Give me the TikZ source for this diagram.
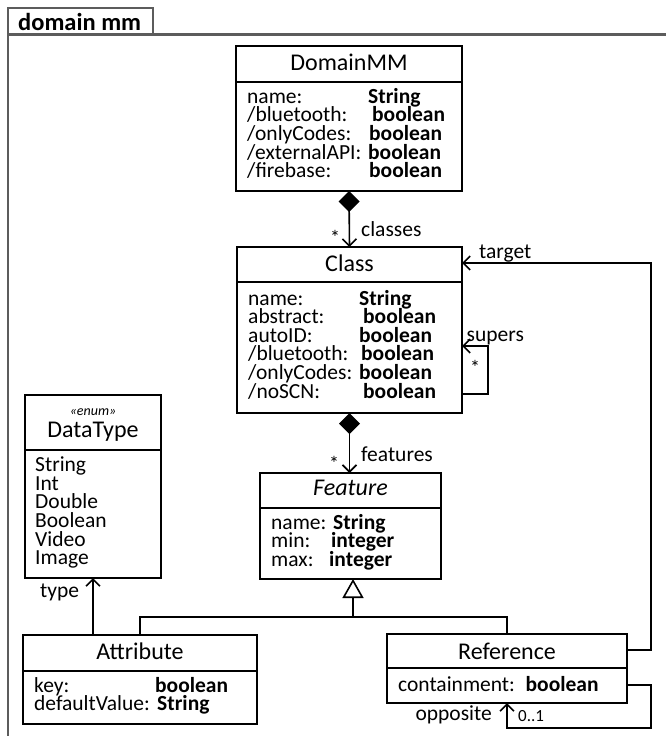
\documentclass[tikz,border=0pt]{standalone}
\usepackage{fontspec}
\setmainfont{Carlito}
\usetikzlibrary{arrows.meta}
\definecolor{framegray}{HTML}{5C5C5C}
\newcommand\attrfont{\fontsize{21.5}{18.6}\selectfont\lineskiplimit=-100pt\relax\lineskip=0pt\relax}
\tikzset{
  box/.style={draw, line width=1.6pt, inner sep=0pt, outer sep=0pt},
  sep/.style={line width=1.6pt},
  title/.style={anchor=base, inner sep=0pt, font=\fontsize{24}{26}\selectfont},
  attrs/.style={anchor=base west, inner sep=0pt, text width=230pt, align=left, font=\attrfont},
  lbl/.style={anchor=base west, inner sep=0pt, font=\fontsize{21.5}{24}\selectfont},
  mult/.style={inner sep=0pt, font=\fontsize{17}{19}\selectfont},
  star/.style={anchor=base, inner sep=0pt, font=\fontsize{20}{22}\selectfont},
  conn/.style={line width=1.6pt},
  assoc/.style={conn, -{Straight Barb[length=7pt,width=14pt]}},
  comp/.style={conn, {Diamond[length=21pt,width=21pt]}-{Straight Barb[length=7pt,width=14pt]}},
  gen/.style={conn, -{Triangle[open,length=19pt,width=21pt,fill=white]}},
  frameline/.style={draw=framegray, line width=2.6pt},
}
\begin{document}
\begin{tikzpicture}[x=1pt,y=-1pt]
\useasboundingbox (0,0) rectangle (665,736);

% package frame with its name tab
\draw[frameline] (8,745) -- (8,8) -- (153,8) -- (153,34.3);
\draw[frameline] (8,34.3) -- (675,34.3);
\node[anchor=base west, inner sep=0pt, font=\fontsize{24.5}{27}\selectfont\bfseries] (pkgname) at (18,30) {domain mm};

% DomainMM
\node[box, minimum width=226pt, minimum height=145pt] (dmm) at (349,118.5) {};
\draw[sep] (dmm.west |- 0,82) -- (dmm.east |- 0,82);
\node[title] (dmmt) at (349,70) {DomainMM};
\node[attrs] (dmma) at (247,103.3) {%
\makebox[121pt][l]{name:}\textbf{String}\\
\makebox[125pt][l]{/bluetooth:}\textbf{boolean}\\
\makebox[122pt][l]{/onlyCodes:}\textbf{boolean}\\
\makebox[121pt][l]{/externalAPI:}\textbf{boolean}\\
\makebox[122pt][l]{/firebase:}\textbf{boolean}};

% Class
\node[box, minimum width=225pt, minimum height=166pt] (cls) at (349.5,330) {};
\draw[sep] (cls.west |- 0,282) -- (cls.east |- 0,282);
\node[title] (clst) at (349.5,271.7) {Class};
\node[attrs] (clsa) at (248,305) {%
\makebox[111pt][l]{name:}\textbf{String}\\
\makebox[115pt][l]{abstract:}\textbf{boolean}\\
\makebox[111pt][l]{autoID:}\textbf{boolean}\\
\makebox[113pt][l]{/bluetooth:}\textbf{boolean}\\
\makebox[111pt][l]{/onlyCodes:}\textbf{boolean}\\
\makebox[115pt][l]{/noSCN:}\textbf{boolean}};

% DataType enumeration
\node[box, minimum width=136pt, minimum height=183pt] (dt) at (93,486.5) {};
\draw[sep] (dt.west |- 0,450) -- (dt.east |- 0,450);
\node[anchor=base, inner sep=0pt, font=\fontsize{14}{16}\selectfont\itshape] (dts) at (93,415) {«enum»};
\node[title] (dtt) at (93,437) {DataType};
\node[attrs] (dta) at (35,471.7) {String\\Int\\Double\\Boolean\\Video\\Image};

% Feature
\node[box, minimum width=181pt, minimum height=106pt] (feat) at (350.5,526) {};
\draw[sep] (feat.west |- 0,508) -- (feat.east |- 0,508);
\node[title, font=\fontsize{24}{26}\selectfont\itshape] (featt) at (350.5,495) {Feature};
\node[attrs] (feata) at (271,529) {%
\makebox[62pt][l]{name:}\textbf{String}\\
\makebox[60pt][l]{min:}\textbf{integer}\\
\makebox[58pt][l]{max:}\textbf{integer}};

% Attribute
\node[box, minimum width=234pt, minimum height=89pt] (att) at (140,679.5) {};
\draw[sep] (att.west |- 0,671) -- (att.east |- 0,671);
\node[title] (attt) at (140,659) {Attribute};
\node[attrs] (atta) at (34,692.3) {%
\makebox[121pt][l]{key:}\textbf{boolean}\\
\makebox[123pt][l]{defaultValue:}\textbf{String}};

% Reference
\node[box, minimum width=240pt, minimum height=69pt] (ref) at (507,668.5) {};
\draw[sep] (ref.west |- 0,668) -- (ref.east |- 0,668);
\node[title] (reft) at (507,659) {Reference};
\node[attrs] (refa) at (398,691.7) {containment: \textbf{boolean}};

% compositions
\draw[comp] (dmm.south) -- (cls.north);
\node[star] (m1) at (335,244) {*};
\node[lbl] (l1) at (361,236.5) {classes};
\draw[comp] (cls.south) -- (feat.north -| cls.south);
\node[star] (m2) at (334,470) {*};
\node[lbl] (l2) at (361,461.5) {features};

% generalisation
\coordinate (genj) at (353,617);
\draw[conn] (att.north) |- (genj) -| (ref.north);
\draw[gen] (genj) -- (genj |- feat.south);

% type
\draw[assoc] (dt.south |- att.north) -- (dt.south);
\node[lbl] (l3) at (40,597) {type};

% target
\coordinate (tc1) at (651,650);
\coordinate (tc2) at (651,263);
\draw[assoc] (ref.east |- tc1) -- (tc1) -- (tc2) -- (cls.east |- tc2);
\node[lbl] (l4) at (479,258.3) {target};

% supers
\coordinate (sc1) at (488,394);
\coordinate (sc2) at (488,346);
\draw[assoc] (cls.east |- sc1) -- (sc1) -- (sc2) -- (cls.east |- sc2);
\node[lbl] (l5) at (466.5,341) {supers};
\node[star] (m3) at (475,374) {*};

% opposite
\coordinate (oc1) at (651,685);
\coordinate (oc2) at (651,728);
\draw[assoc] (ref.east |- oc1) -- (oc1) -- (oc2) -- (oc2 -| ref.south) -- (ref.south);
\node[lbl, anchor=base east] (l6) at (492,720) {opposite};
\node[mult, anchor=base west] (m4) at (518,721.5) {0..1};
\end{tikzpicture}
\end{document}
